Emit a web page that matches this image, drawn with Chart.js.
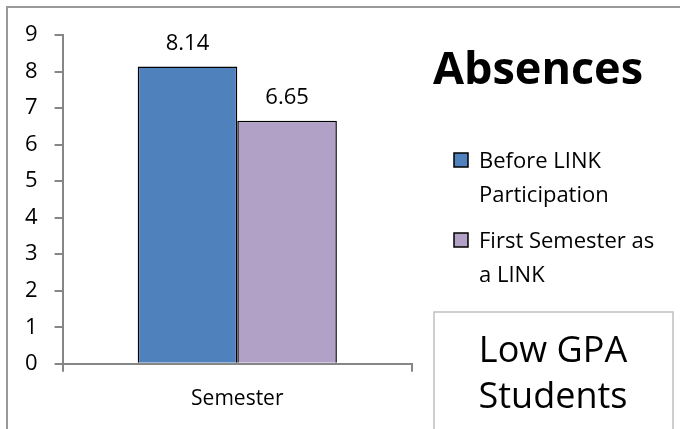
<!DOCTYPE html>
<html>
<head>
<meta charset="utf-8">
<script src="https://cdn.jsdelivr.net/npm/chart.js@4/dist/chart.umd.min.js"></script>
<style>
    html, body { margin: 0; padding: 0; background: #fff; }
    #wrap { width: 680px; height: 429px; position: relative; }
</style>
</head>
<body>
<div id="wrap"><canvas id="chart" width="680" height="429"></canvas></div>
<script>
// Chart data
const categories = ['Semester'];
const seriesLabels = ['Before LINK Participation', 'First Semester as a LINK'];
const legendLines = [['Before LINK', 'Participation'], ['First Semester as', 'a LINK']];
const beforeValues = [8.14];
const firstSemesterValues = [6.65];
const yMin = 0;
const yMax = 9;
const yStep = 1;
const titleText = 'Absences';
const noteLines = ['Low GPA', 'Students'];

const FONT = '"Open Sans", "Noto Sans", sans-serif';
const AXIS_GRAY = '#868686';

// Outer frame, value labels, side title, legend and note box
const decorations = {
    id: 'decorations',
    beforeDraw(chart) {
        const ctx = chart.ctx;
        ctx.save();
        ctx.strokeStyle = '#9a9a9a';
        ctx.lineWidth = 2;
        ctx.beginPath();
        ctx.moveTo(7, 429);
        ctx.lineTo(7, 7);
        ctx.lineTo(680, 7);
        ctx.stroke();
        ctx.restore();
    },
    afterDatasetsDraw(chart) {
        const ctx = chart.ctx;
        ctx.save();
        ctx.fillStyle = '#000';
        ctx.font = '22px ' + FONT;
        ctx.textAlign = 'center';
        ctx.textBaseline = 'middle';
        chart.data.datasets.forEach((ds, i) => {
            chart.getDatasetMeta(i).data.forEach((bar, j) => {
                ctx.fillText(ds.data[j].toFixed(2), bar.x, bar.y - 23);
            });
        });
        ctx.restore();
    },
    afterDraw(chart) {
        const ctx = chart.ctx;
        ctx.save();
        ctx.fillStyle = '#000';
        ctx.textBaseline = 'middle';

        // title
        ctx.font = 'bold 45px ' + FONT;
        ctx.textAlign = 'center';
        ctx.fillText(titleText, 538, 71);

        // legend
        ctx.textAlign = 'left';
        ctx.font = '22px ' + FONT;
        const rowTops = [153, 233];
        chart.data.datasets.forEach((ds, i) => {
            const top = rowTops[i];
            ctx.fillStyle = ds.backgroundColor;
            ctx.fillRect(454, top, 14, 14);
            ctx.strokeStyle = '#000';
            ctx.lineWidth = 1.5;
            ctx.strokeRect(454, top, 14, 14);
            ctx.fillStyle = '#000';
            legendLines[i].forEach((line, k) => {
                ctx.fillText(line, 479, top + 9 + k * 34);
            });
        });

        // note box
        ctx.strokeStyle = '#c0c0c0';
        ctx.lineWidth = 1.5;
        ctx.beginPath();
        ctx.moveTo(434, 429);
        ctx.lineTo(434, 312);
        ctx.lineTo(673, 312);
        ctx.lineTo(673, 429);
        ctx.stroke();
        ctx.textAlign = 'center';
        ctx.font = '36px ' + FONT;
        noteLines.forEach((line, k) => {
            ctx.fillText(line, 553, 352 + k * 46);
        });
        ctx.restore();
    }
};

new Chart(document.getElementById('chart'), {
    type: 'bar',
    data: {
        labels: categories,
        datasets: [
            {
                label: seriesLabels[0],
                data: beforeValues,
                backgroundColor: '#4f81bd',
                borderColor: '#000',
                borderWidth: 1.5
            },
            {
                label: seriesLabels[1],
                data: firstSemesterValues,
                backgroundColor: '#b2a1c7',
                borderColor: '#000',
                borderWidth: 1.5
            }
        ]
    },
    options: {
        responsive: false,
        animation: false,
        events: [],
        categoryPercentage: 0.57,
        barPercentage: 1,
        layout: {
            padding: { left: 8, top: 35, right: 268, bottom: 2 }
        },
        plugins: {
            legend: { display: false },
            title: { display: false },
            tooltip: { enabled: false }
        },
        scales: {
            x: {
                grid: {
                    drawOnChartArea: false,
                    drawTicks: true,
                    tickLength: 8,
                    color: AXIS_GRAY,
                    lineWidth: 2
                },
                border: { display: true, color: AXIS_GRAY, width: 2 },
                ticks: {
                    color: '#000',
                    padding: 15,
                    font: { family: FONT, size: 21 }
                }
            },
            y: {
                min: yMin,
                max: yMax,
                grid: {
                    drawOnChartArea: false,
                    drawTicks: true,
                    tickLength: 8,
                    color: AXIS_GRAY,
                    lineWidth: 2
                },
                border: { display: true, color: AXIS_GRAY, width: 2 },
                ticks: {
                    stepSize: yStep,
                    color: '#000',
                    padding: 17,
                    font: { family: FONT, size: 22 }
                }
            }
        }
    },
    plugins: [decorations]
});
</script>
</body>
</html>
